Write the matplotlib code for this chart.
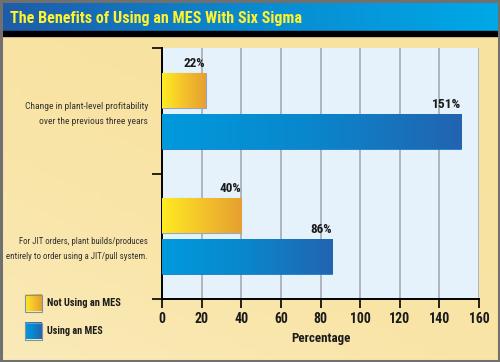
import os
import numpy as np
import matplotlib
matplotlib.use("Agg")
import matplotlib.pyplot as plt
from matplotlib import font_manager as fm
from matplotlib.patches import Rectangle
from matplotlib.colors import LinearSegmentedColormap

title = "The Benefits of Using an MES With Six Sigma"
categories = ["Change in plant-level profitability\nover the previous three years",
              "For JIT orders, plant builds/produces\nentirely to order using a JIT/pull system."]
not_using = [22, 40]
using = [151, 86]
series_names = ["Not Using an MES", "Using an MES"]
xticks = [0, 20, 40, 60, 80, 100, 120, 140, 160]
xlabel = "Percentage"


# ---- find a condensed font if one is installed ----
def pick_font(bold):
    files = set(f.fname for f in fm.fontManager.ttflist)
    try:
        files |= set(fm.findSystemFonts())
    except Exception:
        pass
    files = sorted(files)
    prefs = ['robotocondensed', 'roboto_condensed', 'notosans-condensed', 'notosanscondensed',
             'liberationsansnarrow', 'dejavusanscondensed', 'opensans-condensed',
             'opensanscondensed', 'opensans_condensed']
    for p in prefs:
        for f in files:
            b = os.path.basename(f).lower().replace(' ', '')
            if p not in b or 'italic' in b or not b.endswith(('.ttf', '.otf')):
                continue
            has_bold = 'bold' in b and 'semibold' not in b and 'extrabold' not in b
            if bold and has_bold:
                return fm.FontProperties(fname=f)
            if not bold and not any(k in b for k in ('bold', 'light', 'thin', 'black', 'semi', 'extra')):
                return fm.FontProperties(fname=f)
    return None


FB = pick_font(True)
FR = pick_font(False)
if FB is None:
    FB = fm.FontProperties(family='DejaVu Sans', weight='bold')
if FR is None:
    FR = fm.FontProperties(family='DejaVu Sans')

W, H = 500, 362
fig = plt.figure(figsize=(W / 100, H / 100), dpi=100)
renderer = fig.canvas.get_renderer()


def fit(t, target_w, max_size):
    """Shrink a text so its width in pixels does not exceed target_w."""
    t.set_fontsize(max_size)
    w = t.get_window_extent(renderer).width
    if w > target_w:
        t.set_fontsize(max_size * target_w / w)
    return t


# background layer
bg = fig.add_axes([0, 0, 1, 1])
bg.set_xlim(0, W); bg.set_ylim(H, 0); bg.axis('off')
beige = LinearSegmentedColormap.from_list('b', ['#F8E2A0', '#F9E5A8', '#FAEAB8'])
gy, gx = np.mgrid[0:1:50j, 0:1:50j]
bg.imshow(np.clip(0.7 * gy + 0.5 * (1 - gx) - 0.3, 0, 1), cmap=beige,
          extent=[0, W, H, 36], aspect='auto', zorder=0)
blue_t = LinearSegmentedColormap.from_list('t', ['#1E5CA8', '#0A8AD0', '#00A8E6'])
bg.imshow(np.linspace(0, 1, 100)[None, :], cmap=blue_t, extent=[0, W, 32, 0], aspect='auto', zorder=1)
bg.add_patch(Rectangle((0, 31), W, 5, color='black', zorder=2))
bg.add_patch(Rectangle((1, 1), W - 2, H - 2, fill=False, ec='#707070', lw=2.2, zorder=3))
tt = bg.text(10, 18, title, color='#FFF22E', fontproperties=FB, va='center', ha='left', zorder=4)
fit(tt, 293, 15)

# main axes
ax = fig.add_axes([162 / W, 1 - 299 / H, (479 - 162) / W, (299 - 48) / H])
ax.set_facecolor('#E6F2FB')
ax.set_xlim(0, 160)
ax.set_ylim(1.5, -0.5)
y = np.arange(len(categories))
h = 0.28
off = 0.163
b1 = ax.barh(y - off, not_using, height=h, color='#F5C030', edgecolor='#8FA8C8', lw=0.8, zorder=3)
b2 = ax.barh(y + off, using, height=h, color='#0A80CC', edgecolor='#0A70C0', lw=0.5, zorder=3)

ycm = LinearSegmentedColormap.from_list('y', ['#FFEB22', '#F4C32A', '#E6A030'])
bcm = LinearSegmentedColormap.from_list('bl', ['#009ADC', '#0A86CC', '#2264B0'])
grad = np.linspace(0, 1, 100)[None, :]
for bars, cm in ((b1, ycm), (b2, bcm)):
    for p in bars:
        x0, yy0 = p.get_x(), p.get_y()
        im = ax.imshow(grad, cmap=cm, extent=[x0, x0 + p.get_width(), yy0 + p.get_height(), yy0],
                       aspect='auto', zorder=3.5)
        im.set_clip_path(p)

for bars, vals in ((b1, not_using), (b2, using)):
    for p, v in zip(bars, vals):
        a = ax.annotate(f"{v}%", (p.get_x() + p.get_width(), p.get_y()), xytext=(0, 2),
                        textcoords='offset points', ha='right', va='bottom',
                        fontproperties=FB, color='#1A1A1A', zorder=5)
        fit(a, 7.2 * len(f"{v}%"), 11.5)

ax.set_xticks(xticks)
ax.set_xticklabels([str(t) for t in xticks])
for lab in ax.get_xticklabels():
    lab.set_fontproperties(FB)
    lab.set_color('#1A1A1A')
    fit(lab, 7.0 * len(lab.get_text()), 11.5)
ax.grid(axis='x', color='#A8B0B8', lw=1.3, zorder=1)
ax.set_axisbelow(True)
ax.set_yticks([-0.5, 0.5, 1.5])
ax.set_yticklabels([])
ax.tick_params(axis='y', direction='out', length=7.5, width=1.2, color='black')
ax.tick_params(axis='x', direction='out', length=6.5, width=1.2, color='black', pad=3)
for s in ('top', 'right'):
    ax.spines[s].set_visible(False)
ax.spines['left'].set_linewidth(1.4)
ax.spines['bottom'].set_linewidth(1.4)
xl = ax.set_xlabel(xlabel, fontproperties=FB, color='#1A1A1A', labelpad=4)
fit(xl, 60, 11.5)

# category labels
label_y = [114, 249]
label_w = [122, 142]
for lab, ly, lw_ in zip(categories, label_y, label_w):
    t = bg.text(148, ly, lab, ha='right', va='center', fontproperties=FR, color='#333333',
                linespacing=1.85, zorder=5)
    fit(t, lw_, 8.5)

# legend
leg_items = [(303, ycm), (331, bcm)]
for (cy, cm), name in zip(leg_items, series_names):
    bg.add_patch(Rectangle((25, cy - 8.5), 17, 17, fc='none', ec='#8090A8', lw=0.8, zorder=6))
    bg.imshow(grad, cmap=cm, extent=[25, 42, cy + 8.5, cy - 8.5], aspect='auto', zorder=5)
    t = bg.text(47, cy, name, ha='left', va='center', fontproperties=FB, color='#1A1A1A')
    fit(t, 74 * len(name) / 16.0, 11)
bg.set_xlim(0, W); bg.set_ylim(H, 0)

fig.savefig('out.png', dpi=100)
